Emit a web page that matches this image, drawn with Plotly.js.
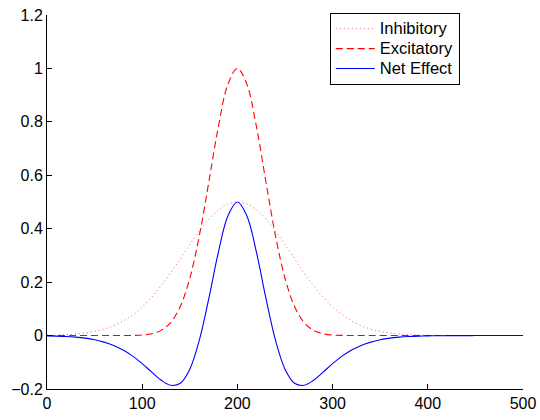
<!DOCTYPE html>
<html>
<head>
<meta charset="utf-8">
<script src="https://cdn.plot.ly/plotly-3.0.1.min.js"></script>
<style>html,body{margin:0;padding:0;background:#fff;}#chart{width:540px;height:420px;}</style>
</head>
<body>
<div id="chart"></div>
<script>
// x positions (0..500 step 10)
const xValues = [0,10,20,30,40,50,60,70,80,90,100,110,120,130,140,150,160,170,180,190,
  200,210,220,230,240,250,260,270,280,290,300,310,320,330,340,350,360,370,380,390,
  400,410,420,430,440,450,460,470,480,490,500];

const inhibitory = [0.0011,0.0019,0.0034,0.0059,0.0097,0.0157,0.0245,0.0371,0.0545,0.0777,
  0.1073,0.1438,0.1868,0.2352,0.2874,0.3403,0.3909,0.4353,0.4701,0.4924,
  0.5000,0.4924,0.4701,0.4353,0.3909,0.3403,0.2874,0.2352,0.1868,0.1438,
  0.1073,0.0777,0.0545,0.0371,0.0245,0.0157,0.0097,0.0059,0.0034,0.0019,
  0.0011,0.0006,0.0003,0.0002,0.0001,0,0,0,0,0,0];

const excitatory = [0,0,0,0,0,0,0,0,0.0001,0.0006,
  0.0021,0.0068,0.0195,0.0490,0.1090,0.2146,0.3735,0.5747,0.7818,0.9403,
  1.0000,0.9403,0.7818,0.5747,0.3735,0.2146,0.1090,0.0490,0.0195,0.0068,
  0.0021,0.0006,0.0001,0,0,0,0,0,0,0,
  0,0,0,0,0,0,0,0,0,0,0];

const netEffect = [-0.0011,-0.0019,-0.0034,-0.0059,-0.0097,-0.0157,-0.0245,-0.0371,-0.0544,-0.0771,
  -0.1052,-0.1370,-0.1673,-0.1862,-0.1784,-0.1257,-0.0174,0.1394,0.3117,0.4479,
  0.5000,0.4479,0.3117,0.1394,-0.0174,-0.1257,-0.1784,-0.1862,-0.1673,-0.1370,
  -0.1052,-0.0771,-0.0544,-0.0371,-0.0245,-0.0157,-0.0097,-0.0059,-0.0034,-0.0019,
  -0.0011,-0.0006,-0.0003,-0.0002,-0.0001,0,0,0,0,0,0];

const seriesNames = ['Inhibitory','Excitatory','Net Effect'];
const xTicks = [0,100,200,300,400,500];
const yTicks = [-0.2,0,0.2,0.4,0.6,0.8,1,1.2];

const fam = '"Liberation Sans", Arial, Helvetica, sans-serif';
const font = {family: fam, size: 16, color: '#000'};
const legendName = n => '<span style="font-size:16.5px">' + n + '</span>';

const traces = [
  {x: xValues, y: inhibitory, name: legendName(seriesNames[0]), type: 'scatter', mode: 'lines',
   line: {color: 'rgb(255,90,90)', width: 1, dash: '1px,3px', shape: 'spline'}},
  {x: xValues, y: excitatory, name: legendName(seriesNames[1]), type: 'scatter', mode: 'lines',
   line: {color: '#ff0000', width: 1.1, dash: '7px,4px', shape: 'spline'}},
  {x: xValues, y: netEffect, name: legendName(seriesNames[2]), type: 'scatter', mode: 'lines',
   line: {color: '#0000ff', width: 1.1, shape: 'spline'}}
];

const axisCommon = {
  showline: true, linecolor: '#000', linewidth: 1, mirror: false,
  ticks: 'inside', ticklen: 5, tickcolor: '#000', tickwidth: 1,
  showgrid: false, zeroline: false, tickfont: font
};

const layout = {
  width: 540, height: 420,
  margin: {l: 47, r: 17, t: 15, b: 31},
  paper_bgcolor: '#fff', plot_bgcolor: '#fff',
  font: font,
  showlegend: true,
  legend: {x: 0.594, y: 1.006, xanchor: 'left', yanchor: 'top',
    bgcolor: '#fff', bordercolor: '#000', borderwidth: 1,
    font: {family: fam, size: 13, color: '#000'},
    itemwidth: 39, tracegroupgap: 0},
  xaxis: Object.assign({}, axisCommon, {range: [0, 500], tickvals: xTicks}),
  yaxis: Object.assign({}, axisCommon, {range: [-0.2, 1.2], tickvals: yTicks})
};

Plotly.newPlot('chart', traces, layout, {displayModeBar: false, staticPlot: true});
</script>
</body>
</html>
